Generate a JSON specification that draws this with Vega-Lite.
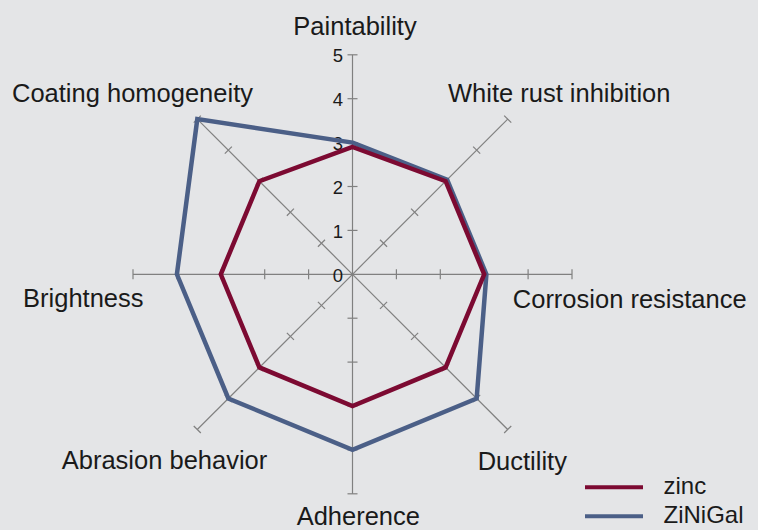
{
  "$schema": "https://vega.github.io/schema/vega-lite/v6.json",
  "width": 758,
  "height": 530,
  "padding": 0,
  "autosize": {"type": "none"},
  "background": "#e4e5e7",
  "config": {"view": {"stroke": null}, "font": "Liberation Sans"},
  "datasets": {
    "axes": [
      {"property": "Paintability", "idx": 0, "ticks": [1, 2, 3, 4, 5]},
      {"property": "White rust inhibition", "idx": 1, "ticks": [1, 2, 3, 4, 5]},
      {"property": "Corrosion resistance", "idx": 2, "ticks": [1, 2, 3, 4, 5]},
      {"property": "Ductility", "idx": 3, "ticks": [1, 2, 3, 4, 5]},
      {"property": "Adherence", "idx": 4, "ticks": [1, 2, 3, 4, 5]},
      {"property": "Abrasion behavior", "idx": 5, "ticks": [1, 2, 3, 4, 5]},
      {"property": "Brightness", "idx": 6, "ticks": [1, 2, 3, 4, 5]},
      {"property": "Coating homogeneity", "idx": 7, "ticks": [1, 2, 3, 4, 5]}
    ],
    "levels": [{"level": 0}, {"level": 1}, {"level": 2}, {"level": 3}, {"level": 4}, {"level": 5}],
    "scores": [
      {"material": "zinc", "property": "Paintability", "score": 2.9},
      {"material": "zinc", "property": "White rust inhibition", "score": 3},
      {"material": "zinc", "property": "Corrosion resistance", "score": 3},
      {"material": "zinc", "property": "Ductility", "score": 3},
      {"material": "zinc", "property": "Adherence", "score": 3},
      {"material": "zinc", "property": "Abrasion behavior", "score": 3},
      {"material": "zinc", "property": "Brightness", "score": 3},
      {"material": "zinc", "property": "Coating homogeneity", "score": 3},
      {"material": "ZiNiGal", "property": "Paintability", "score": 3},
      {"material": "ZiNiGal", "property": "White rust inhibition", "score": 3.05},
      {"material": "ZiNiGal", "property": "Corrosion resistance", "score": 3.05},
      {"material": "ZiNiGal", "property": "Ductility", "score": 4},
      {"material": "ZiNiGal", "property": "Adherence", "score": 4},
      {"material": "ZiNiGal", "property": "Abrasion behavior", "score": 4},
      {"material": "ZiNiGal", "property": "Brightness", "score": 4},
      {"material": "ZiNiGal", "property": "Coating homogeneity", "score": 5}
    ]
  },
  "layer": [
    {
      "data": {"name": "axes"},
      "transform": [
        {"calculate": "PI/2 - datum.idx*PI/4", "as": "a"},
        {"calculate": "0", "as": "o"},
        {"calculate": "5*cos(datum.a)", "as": "ex"},
        {"calculate": "5*sin(datum.a)", "as": "ey"}
      ],
      "mark": {"type": "rule", "color": "#808080", "strokeWidth": 1.2},
      "encoding": {
        "x": {"field": "o", "type": "quantitative", "scale": {"domain": [-8.0296, 9.2369], "nice": false, "zero": false}, "axis": null},
        "y": {"field": "o", "type": "quantitative", "scale": {"domain": [-5.8246, 6.2483], "nice": false, "zero": false}, "axis": null},
        "x2": {"field": "ex"},
        "y2": {"field": "ey"}
      }
    },
    {
      "data": {"name": "axes"},
      "transform": [
        {"flatten": ["ticks"]},
        {"calculate": "PI/2 - datum.idx*PI/4", "as": "a"},
        {"calculate": "datum.ticks*cos(datum.a) - 0.114*sin(datum.a)", "as": "tx1"},
        {"calculate": "datum.ticks*sin(datum.a) + 0.114*cos(datum.a)", "as": "ty1"},
        {"calculate": "datum.ticks*cos(datum.a) + 0.114*sin(datum.a)", "as": "tx2"},
        {"calculate": "datum.ticks*sin(datum.a) - 0.114*cos(datum.a)", "as": "ty2"}
      ],
      "mark": {"type": "rule", "color": "#808080", "strokeWidth": 1.2},
      "encoding": {
        "x": {"field": "tx1", "type": "quantitative", "axis": null},
        "y": {"field": "ty1", "type": "quantitative", "axis": null},
        "x2": {"field": "tx2"},
        "y2": {"field": "ty2"}
      }
    },
    {
      "data": {"name": "levels"},
      "transform": [{"calculate": "0", "as": "o"}],
      "mark": {"type": "text", "align": "right", "baseline": "alphabetic", "dx": -9.5, "dy": 7.5, "fontSize": 18.5, "color": "#1a1a1a"},
      "encoding": {
        "x": {"field": "o", "type": "quantitative"},
        "y": {"field": "level", "type": "quantitative"},
        "text": {"field": "level", "type": "quantitative"}
      }
    },
    {
      "data": {"name": "scores"},
      "transform": [
        {"filter": "datum.material === 'ZiNiGal'"},
        {"lookup": "property", "from": {"data": {"name": "axes"}, "key": "property", "fields": ["idx"]}},
        {"calculate": "PI/2 - datum.idx*PI/4", "as": "a"},
        {"calculate": "datum.score*cos(datum.a)", "as": "px"},
        {"calculate": "datum.score*sin(datum.a)", "as": "py"}
      ],
      "mark": {"type": "line", "interpolate": "linear-closed", "strokeWidth": 4.5, "strokeJoin": "miter"},
      "encoding": {
        "x": {"field": "px", "type": "quantitative"},
        "y": {"field": "py", "type": "quantitative"},
        "order": {"field": "idx", "type": "quantitative"},
        "color": {
          "field": "material", "type": "nominal",
          "scale": {"domain": ["zinc", "ZiNiGal"], "range": ["#7c0a32", "#4b5f87"]},
          "legend": {"title": null, "orient": "none", "legendX": 597.5, "legendY": 470.8, "padding": 0, "symbolType": "M-2,0H2", "symbolSize": 841, "symbolStrokeWidth": 4, "labelFontSize": 24, "labelFont": "Liberation Sans", "labelColor": "#1a1a1a", "labelOffset": 33, "rowPadding": 0}
        }
      }
    },
    {
      "data": {"name": "scores"},
      "transform": [
        {"filter": "datum.material === 'zinc'"},
        {"lookup": "property", "from": {"data": {"name": "axes"}, "key": "property", "fields": ["idx"]}},
        {"calculate": "PI/2 - datum.idx*PI/4", "as": "a"},
        {"calculate": "datum.score*cos(datum.a)", "as": "px"},
        {"calculate": "datum.score*sin(datum.a)", "as": "py"}
      ],
      "mark": {"type": "line", "interpolate": "linear-closed", "strokeWidth": 4.5, "strokeJoin": "miter"},
      "encoding": {
        "x": {"field": "px", "type": "quantitative"},
        "y": {"field": "py", "type": "quantitative"},
        "order": {"field": "idx", "type": "quantitative"},
        "color": {"field": "material", "type": "nominal"}
      }
    },
    {"data": {"name": "axes"}, "transform": [{"filter": "datum.idx === 0"}, {"calculate": "PI/2 - datum.idx*PI/4", "as": "a"}, {"calculate": "5*cos(datum.a)", "as": "lx"}, {"calculate": "5*sin(datum.a)", "as": "ly"}],
     "mark": {"type": "text", "align": "center", "baseline": "alphabetic", "fontSize": 25.5, "color": "#1a1a1a", "dx": 2.5, "dy": -19.8},
     "encoding": {"x": {"field": "lx", "type": "quantitative"}, "y": {"field": "ly", "type": "quantitative"}, "text": {"field": "property", "type": "nominal"}}},
    {"data": {"name": "axes"}, "transform": [{"filter": "datum.idx === 1"}, {"calculate": "PI/2 - datum.idx*PI/4", "as": "a"}, {"calculate": "5*cos(datum.a)", "as": "lx"}, {"calculate": "5*sin(datum.a)", "as": "ly"}],
     "mark": {"type": "text", "align": "center", "baseline": "alphabetic", "fontSize": 25.5, "color": "#1a1a1a", "dx": 51.5, "dy": -16.8},
     "encoding": {"x": {"field": "lx", "type": "quantitative"}, "y": {"field": "ly", "type": "quantitative"}, "text": {"field": "property", "type": "nominal"}}},
    {"data": {"name": "axes"}, "transform": [{"filter": "datum.idx === 2"}, {"calculate": "PI/2 - datum.idx*PI/4", "as": "a"}, {"calculate": "5*cos(datum.a)", "as": "lx"}, {"calculate": "5*sin(datum.a)", "as": "ly"}],
     "mark": {"type": "text", "align": "center", "baseline": "alphabetic", "fontSize": 25.5, "color": "#1a1a1a", "dx": 57.7, "dy": 34},
     "encoding": {"x": {"field": "lx", "type": "quantitative"}, "y": {"field": "ly", "type": "quantitative"}, "text": {"field": "property", "type": "nominal"}}},
    {"data": {"name": "axes"}, "transform": [{"filter": "datum.idx === 3"}, {"calculate": "PI/2 - datum.idx*PI/4", "as": "a"}, {"calculate": "5*cos(datum.a)", "as": "lx"}, {"calculate": "5*sin(datum.a)", "as": "ly"}],
     "mark": {"type": "text", "align": "center", "baseline": "alphabetic", "fontSize": 25.5, "color": "#1a1a1a", "dx": 14.6, "dy": 40.5},
     "encoding": {"x": {"field": "lx", "type": "quantitative"}, "y": {"field": "ly", "type": "quantitative"}, "text": {"field": "property", "type": "nominal"}}},
    {"data": {"name": "axes"}, "transform": [{"filter": "datum.idx === 4"}, {"calculate": "PI/2 - datum.idx*PI/4", "as": "a"}, {"calculate": "5*cos(datum.a)", "as": "lx"}, {"calculate": "5*sin(datum.a)", "as": "ly"}],
     "mark": {"type": "text", "align": "center", "baseline": "alphabetic", "fontSize": 25.5, "color": "#1a1a1a", "dx": 5.8, "dy": 31.2},
     "encoding": {"x": {"field": "lx", "type": "quantitative"}, "y": {"field": "ly", "type": "quantitative"}, "text": {"field": "property", "type": "nominal"}}},
    {"data": {"name": "axes"}, "transform": [{"filter": "datum.idx === 5"}, {"calculate": "PI/2 - datum.idx*PI/4", "as": "a"}, {"calculate": "5*cos(datum.a)", "as": "lx"}, {"calculate": "5*sin(datum.a)", "as": "ly"}],
     "mark": {"type": "text", "align": "center", "baseline": "alphabetic", "fontSize": 25.5, "color": "#1a1a1a", "dx": -32.8, "dy": 39.8},
     "encoding": {"x": {"field": "lx", "type": "quantitative"}, "y": {"field": "ly", "type": "quantitative"}, "text": {"field": "property", "type": "nominal"}}},
    {"data": {"name": "axes"}, "transform": [{"filter": "datum.idx === 6"}, {"calculate": "PI/2 - datum.idx*PI/4", "as": "a"}, {"calculate": "5*cos(datum.a)", "as": "lx"}, {"calculate": "5*sin(datum.a)", "as": "ly"}],
     "mark": {"type": "text", "align": "center", "baseline": "alphabetic", "fontSize": 25.5, "color": "#1a1a1a", "dx": -49.7, "dy": 32.4},
     "encoding": {"x": {"field": "lx", "type": "quantitative"}, "y": {"field": "ly", "type": "quantitative"}, "text": {"field": "property", "type": "nominal"}}},
    {"data": {"name": "axes"}, "transform": [{"filter": "datum.idx === 7"}, {"calculate": "PI/2 - datum.idx*PI/4", "as": "a"}, {"calculate": "5*cos(datum.a)", "as": "lx"}, {"calculate": "5*sin(datum.a)", "as": "ly"}],
     "mark": {"type": "text", "align": "center", "baseline": "alphabetic", "fontSize": 25.5, "color": "#1a1a1a", "dx": -64.8, "dy": -16.8},
     "encoding": {"x": {"field": "lx", "type": "quantitative"}, "y": {"field": "ly", "type": "quantitative"}, "text": {"field": "property", "type": "nominal"}}}
  ]
}
